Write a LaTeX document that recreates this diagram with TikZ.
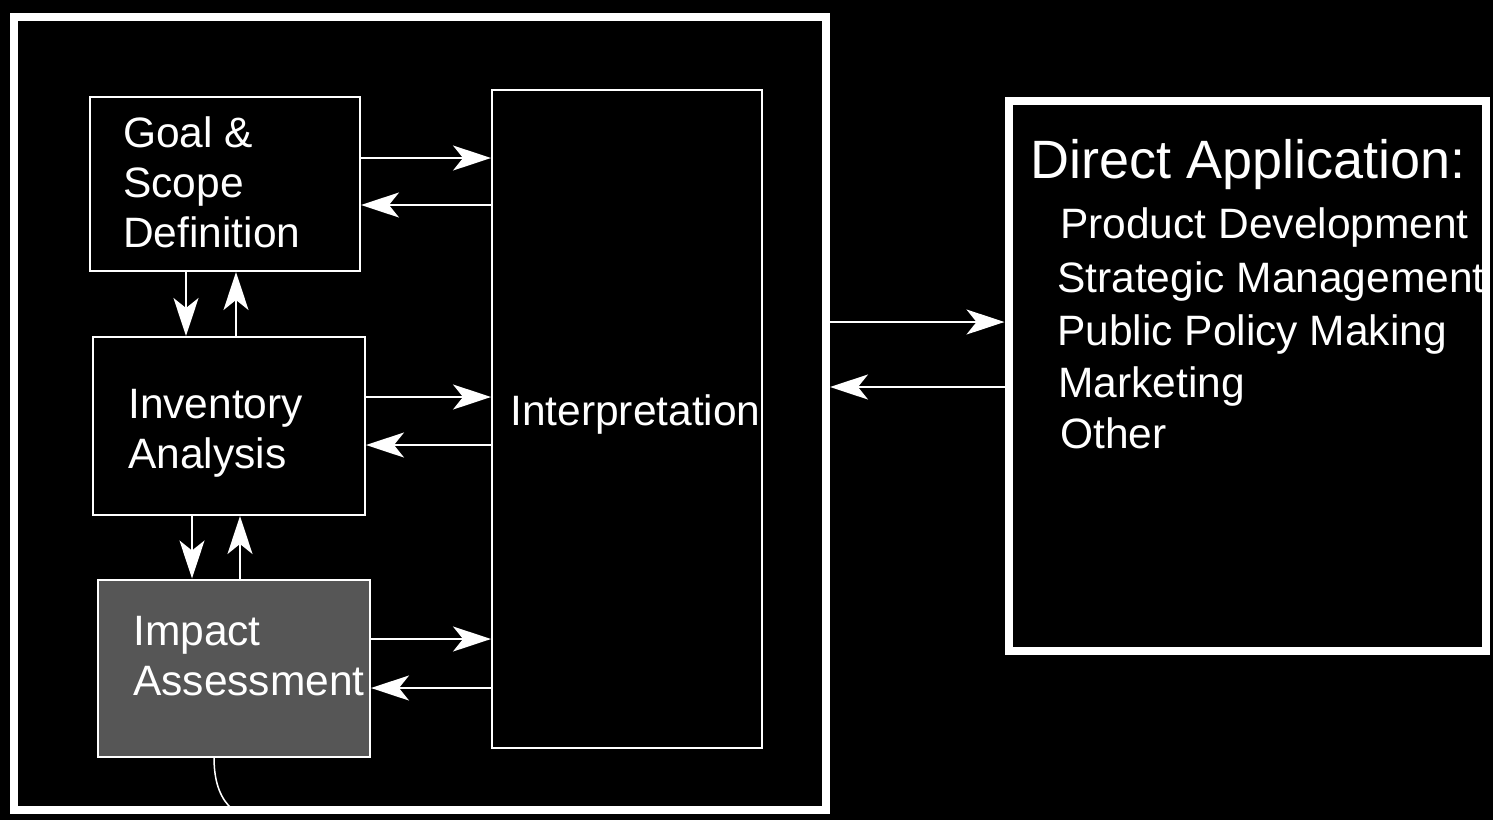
\documentclass[tikz,border=0pt]{standalone}
\usepackage{fontspec}
\setmainfont{Liberation Sans}
\usepackage{tikz}
\usetikzlibrary{arrows.meta,positioning,calc}
\definecolor{impactGray}{HTML}{565656}

\begin{document}
\begin{tikzpicture}[x=1pt,y=-1pt]
    \tikzset{
      lcabox/.style={draw=white, line width=2pt, inner sep=0pt},
      lcatext/.style={text=white, align=left, anchor=base west, inner sep=0pt,
        font=\fontsize{42.5}{50}\selectfont},
      frame/.style={draw=white, line width=8pt, inner sep=0pt},
      flow/.style={draw=white, line width=2pt,
        -{Stealth[length=38pt, width=25pt, inset=10pt]}},
      apptext/.style={text=white, anchor=base west, inner sep=0pt,
        font=\fontsize{42.5}{50}\selectfont}
    }

    % Background
    \useasboundingbox (0,0) rectangle (1493,820);
    \fill[black] (0,0) rectangle (1493,820);

    % Outer frames
    \node[frame, minimum width=812pt, minimum height=793pt] (lca) at (420,413) {};
    \node[frame, minimum width=477pt, minimum height=550pt] (app) at (1247,376) {};

    % Phase boxes
    \node[lcabox, minimum width=270pt, minimum height=174pt] (goal) at (225,184) {};
    \node[lcabox, minimum width=272pt, minimum height=178pt] (inv) at (229,426) {};
    \node[lcabox, fill=impactGray, minimum width=272pt, minimum height=177pt] (impact) at (234,668) {};
    \node[lcabox, minimum width=270pt, minimum height=658pt] (interp) at (627,419) {};

    % Phase labels (base = last line)
    \node[lcatext] (goaltext) at (123,247) {Goal \&\\Scope\\Definition};
    \node[lcatext] (invtext) at (128,468) {Inventory\\Analysis};
    \node[lcatext] (impacttext) at (133,695) {Impact\\Assessment};
    \node[lcatext] (interptext) at (510,425) {Interpretation};

    % Phases <-> interpretation
    \draw[flow] (goal.east |- 0,158) -- (interp.west |- 0,158);
    \draw[flow] (interp.west |- 0,205) -- (goal.east |- 0,205);
    \draw[flow] (inv.east |- 0,397) -- (interp.west |- 0,397);
    \draw[flow] (interp.west |- 0,445) -- (inv.east |- 0,445);
    \draw[flow] (impact.east |- 0,639) -- (interp.west |- 0,639);
    \draw[flow] (interp.west |- 0,688) -- (impact.east |- 0,688);

    % Phase to phase
    \draw[flow] (goal.south -| 186,0) -- (inv.north -| 186,0);
    \draw[flow] (inv.north -| 236,0) -- (goal.south -| 236,0);
    \draw[flow] (inv.south -| 192,0) -- (impact.north -| 192,0);
    \draw[flow] (impact.north -| 240,0) -- (inv.south -| 240,0);

    % Framework <-> applications
    \draw[flow] (lca.east |- 0,322) -- (app.west |- 0,322);
    \draw[flow] (app.west |- 0,387) -- (lca.east |- 0,387);

    % Line out of impact assessment
    \coordinate (tail) at (232,809);
    \draw[white, line width=1.5pt] (impact.south -| 214,0) .. controls (214,785) and (222,800) .. (tail);

    % Direct applications
    \node[apptext, font=\fontsize{54}{60}\selectfont] (apphead) at (1030,178) {Direct Application:};
    \foreach \i/\lab/\xx/\yy in {1/Product Development/1060/238, 2/Strategic Management/1057/292,
        3/Public Policy Making/1057/345, 4/Marketing/1058/397, 5/Other/1060/448} {
      \node[apptext] (item\i) at (\xx,\yy) {\lab};
    }
  \end{tikzpicture}
\end{document}
